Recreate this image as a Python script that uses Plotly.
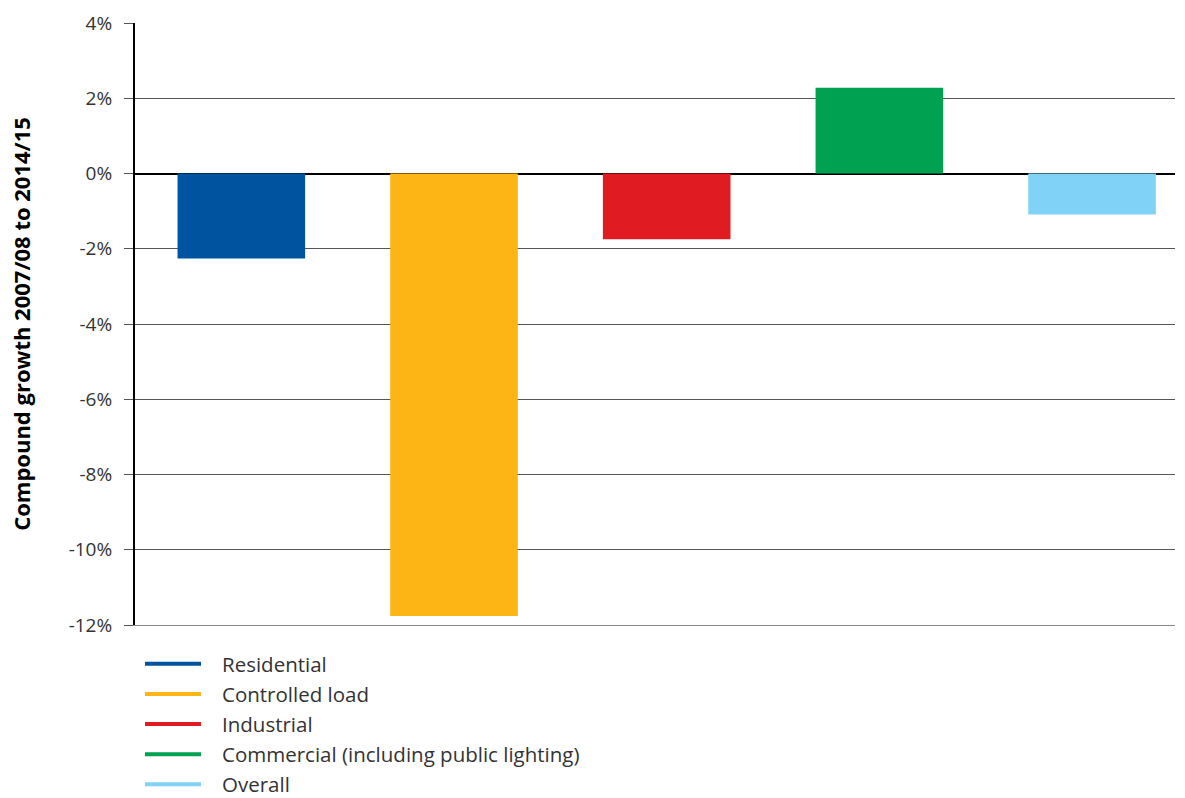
import plotly.graph_objects as go

categories = ["Residential", "Controlled load", "Industrial",
              "Commercial (including public lighting)", "Overall"]
growth_pct = [-2.26, -11.76, -1.75, 2.28, -1.09]
colors = ["#00539F", "#FDB515", "#E01B22", "#00A150", "#80D3F6"]
y_ticks = [4, 2, 0, -2, -4, -6, -8, -10, -12]
y_tick_labels = [f"{v}%" for v in y_ticks]

FONT = "Open Sans"
TEXT = "#333333"

W, H = 1185, 798
M_L, M_R, M_T, M_B = 135, 10, 21, 173
PLOT_W = W - M_L - M_R
PLOT_H = H - M_T - M_B

fig = go.Figure()

# one bar per category, numeric x so the bars sit at fixed slots
for i, (name, val, col) in enumerate(zip(categories, growth_pct, colors)):
    fig.add_trace(go.Bar(
        x=[i], y=[val], name=name, width=0.6,
        marker=dict(color=col, line=dict(width=0)),
        showlegend=False,
    ))

# legend below the plot: coloured line + label per category
def px_x(p):
    return (p - M_L) / PLOT_W

def px_y(p):
    return (H - M_B - p) / PLOT_H

LEG_TOP, LEG_STEP = 664, 30.2
for i, (name, col) in enumerate(zip(categories, colors)):
    yy = px_y(LEG_TOP + i * LEG_STEP)
    fig.add_shape(type="line", xref="paper", yref="paper",
                  x0=px_x(145), x1=px_x(201), y0=yy, y1=yy,
                  line=dict(color=col, width=4))
    fig.add_annotation(xref="paper", yref="paper", x=px_x(221), y=yy,
                       xanchor="left", yanchor="middle", showarrow=False,
                       text=name, font=dict(family=FONT, size=20.5, color=TEXT),
                       borderpad=0)

fig.update_layout(
    width=W, height=H,
    margin=dict(l=M_L, r=M_R, t=M_T, b=M_B),
    plot_bgcolor="white", paper_bgcolor="white",
    font=dict(family=FONT, color=TEXT, size=18),
    showlegend=False,
    xaxis=dict(
        range=[-0.5, 4.39], showticklabels=False, showgrid=False,
        zeroline=False, showline=True, linecolor="#888888", linewidth=1,
        ticks="",
    ),
    yaxis=dict(
        range=[-12, 4], tickvals=y_ticks, ticktext=y_tick_labels,
        showgrid=True, gridcolor="#555555", gridwidth=1,
        zeroline=True, zerolinecolor="#000000", zerolinewidth=2,
        showline=True, linecolor="#000000", linewidth=2,
        ticks="outside", ticklen=9, tickcolor="#555555", tickwidth=1,
        ticklabelstandoff=8,
        tickfont=dict(family=FONT, size=19, color=TEXT),
        title=dict(text="<b>Compound growth 2007/08 to 2014/15</b>",
                   font=dict(family=FONT, size=22, color="#000000"),
                   standoff=32),
    ),
)

fig.write_html("out.html")
